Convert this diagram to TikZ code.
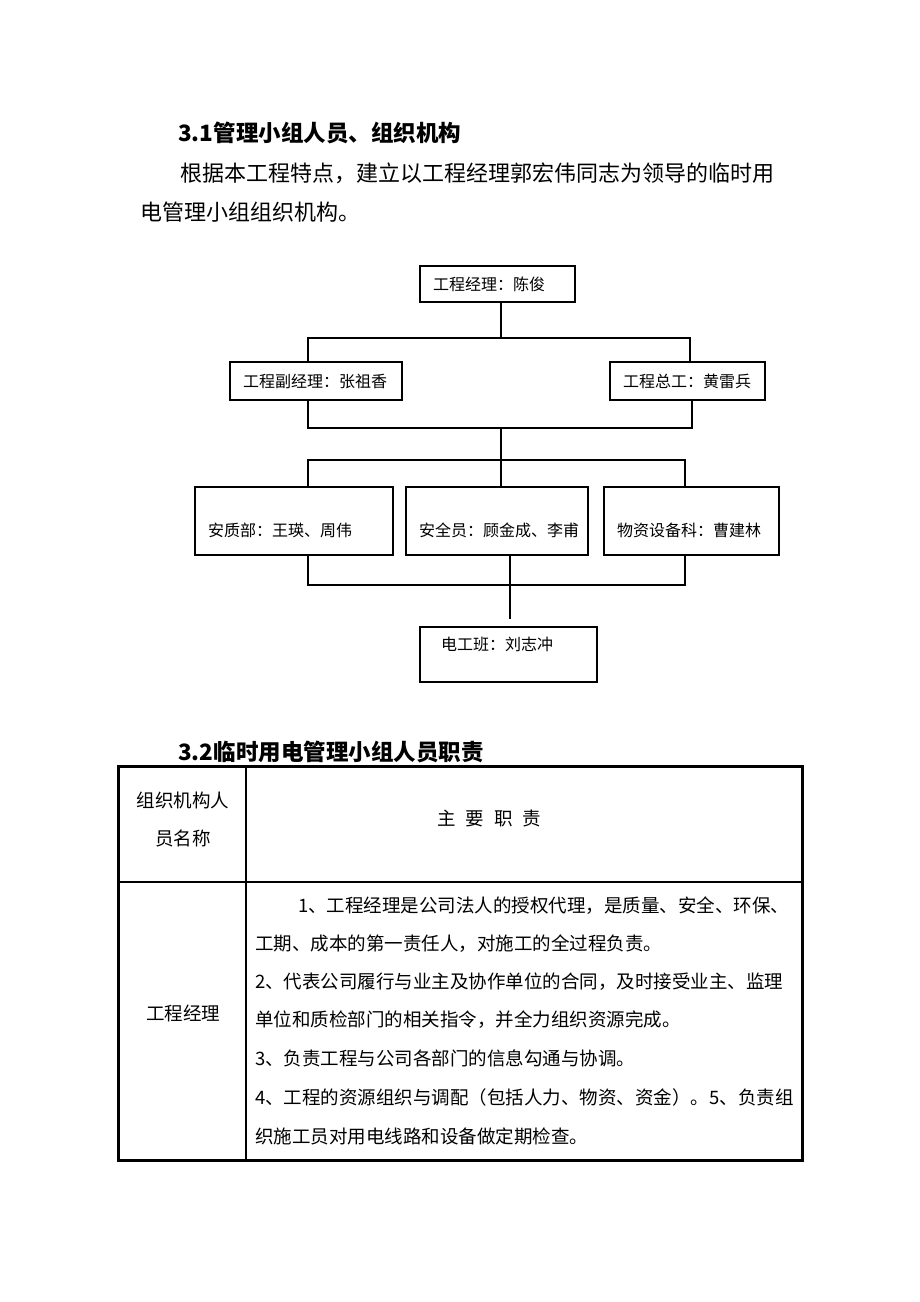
\documentclass[tikz,border=0pt]{standalone}
\usepackage{fontspec}
\setmainfont{Noto Sans CJK SC}
\usetikzlibrary{positioning,calc}

\begin{document}
\begin{tikzpicture}
[x=1pt, y=-1pt,
orgbox/.style={draw=black, line width=1.2pt, rectangle, inner xsep=13pt, inner ysep=0pt, align=left, font=\fontsize{16}{18}\selectfont},
lowtext/.style={text height=34pt, text depth=4pt},
hightext/.style={text height=14pt, text depth=22pt},
link/.style={draw=black, line width=1.2pt},
headtext/.style={anchor=west, inner sep=0pt, font=\bfseries\fontsize{22.5}{26}\selectfont},
bodytext/.style={anchor=west, inner sep=0pt, font=\fontsize{22}{26}\selectfont},
celltext/.style={anchor=west, inner sep=0pt, font=\fontsize{18.5}{22}\selectfont}
]
\fill[white] (0,0) rectangle (920,1302);
\useasboundingbox (0,0) rectangle (920,1302);

%Heading and paragraph
\node[headtext]	(h1) at(178,133) {3.1管理小组人员、组织机构};
\node[bodytext]	(p1) at(180,173) {根据本工程特点，建立以工程经理郭宏伟同志为领导的临时用};
\node[bodytext]	(p2) at(140,212) {电管理小组组织机构。};

%Nodes
\node[orgbox, text width=129pt, minimum height=36pt]	(mgr) at(497.5,284) {工程经理：陈俊};
\node[orgbox, text width=146pt, minimum height=38pt]	(dep) at(316,381) {工程副经理：张祖香};
\node[orgbox, text width=129pt, minimum height=38pt]	(chief) at(687.5,381) {工程总工：黄雷兵};
\node[orgbox, lowtext, text width=172pt, minimum height=68pt]	(safeq) at(294,521) {安质部：王瑛、周伟};
\node[orgbox, lowtext, text width=156pt, minimum height=68pt]	(safe) at(497,521) {安全员：顾金成、李甫};
\node[orgbox, lowtext, text width=149pt, minimum height=68pt]	(mat) at(691.5,521) {物资设备科：曹建林};
\node[orgbox, hightext, inner xsep=21pt, text width=135pt, minimum height=55pt]	(elec) at(508.5,654.5) {电工班：刘志冲};

%Bus points
\coordinate (b1) at(501,338);
\coordinate (bl1) at(308,338);
\coordinate (br1) at(690,338);
\coordinate (bl2) at(308,428);
\coordinate (br2) at(692,428);
\coordinate (b2) at(501,428);
\coordinate (bl3) at(308,460);
\coordinate (br3) at(685,460);
\coordinate (bl4) at(308,585);
\coordinate (br4) at(685,585);
\coordinate (b4) at(510,585);

%Connectors
\draw[link] (b1 |- mgr.south) -- (b1);
\draw[link] (bl1 |- dep.north) -- (bl1) -- (br1) -- (br1 |- chief.north);
\draw[link] (bl2 |- dep.south) -- (bl2) -- (br2) -- (br2 |- chief.south);
\draw[link] (b2) -- (b2 |- safe.north);
\draw[link] (bl3 |- safeq.north) -- (bl3) -- (br3) -- (br3 |- mat.north);
\draw[link] (bl4 |- safeq.south) -- (bl4) -- (br4) -- (br4 |- mat.south);
\draw[link] (b4 |- safe.south) -- ($(b4 |- elec.north)+(0,-7)$);

%Table
\node[headtext]	(h2) at(178,752) {3.2临时用电管理小组人员职责};
\coordinate (tl) at(118,766);
\coordinate (tr) at(802,1160);
\draw[line width=3pt] (tl) rectangle (tr);
\draw[line width=1.2pt] (246,766) -- (246,1160);
\draw[line width=1.2pt] (118,882) -- (802,882);

\node[celltext, anchor=center]	(c1a) at(183,800) {组织机构人};
\node[celltext, anchor=center]	(c1b) at(183,838) {员名称};
\node[celltext, anchor=center]	(c2) at(489,818) {主\hspace{10pt}要\hspace{10pt}职\hspace{10pt}责};
\node[celltext, anchor=center]	(r1) at(183,1013) {工程经理};
\node[celltext]	(l1) at(298,906) {1、工程经理是公司法人的授权代理，是质量、安全、环保、};
\node[celltext]	(l2) at(255,944) {工期、成本的第一责任人，对施工的全过程负责。};
\node[celltext]	(l3) at(255,982) {2、代表公司履行与业主及协作单位的合同，及时接受业主、监理};
\node[celltext]	(l4) at(255,1020) {单位和质检部门的相关指令，并全力组织资源完成。};
\node[celltext]	(l5) at(255,1058) {3、负责工程与公司各部门的信息勾通与协调。};
\node[celltext]	(l6) at(255,1097) {4、工程的资源组织与调配（包括人力、物资、资金）。5、负责组};
\node[celltext]	(l7) at(255,1136) {织施工员对用电线路和设备做定期检查。};

\end{tikzpicture}
\end{document}
